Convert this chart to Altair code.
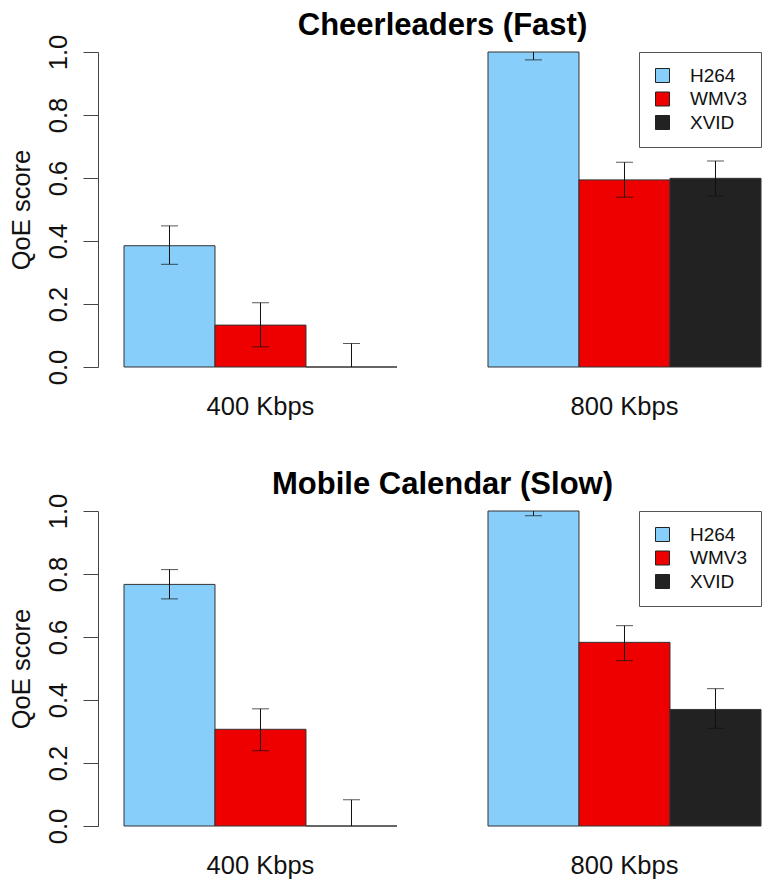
import altair as alt
import pandas as pd

groups = ["400 Kbps", "800 Kbps"]
codecs = ["H264", "WMV3", "XVID"]
colors = ["#87CEFA", "#EE0000", "#222222"]

# order: 400 (H264, WMV3, XVID), 800 (H264, WMV3, XVID)
cheer_values = [0.385, 0.133, 0.000, 1.000, 0.594, 0.599]
cheer_lo = [0.326, 0.064, -0.075, 0.975, 0.539, 0.543]
cheer_hi = [0.448, 0.204, 0.075, 1.025, 0.650, 0.654]

mobile_values = [0.767, 0.307, 0.000, 1.000, 0.583, 0.370]
mobile_lo = [0.721, 0.239, -0.083, 0.985, 0.525, 0.310]
mobile_hi = [0.814, 0.372, 0.083, 1.015, 0.636, 0.436]

titles = ["Cheerleaders (Fast)", "Mobile Calendar (Slow)"]

FONT = "Liberation Sans"
AX_FS = 25.5


def panel(title, vals, lo, hi):
    rows = []
    i = 0
    for g in groups:
        for c in codecs:
            rows.append({"group": g, "codec": c, "value": vals[i], "lo": lo[i], "hi": hi[i]})
            i += 1
    df = pd.DataFrame(rows)

    x = alt.X(
        "group:N",
        sort=groups,
        scale=alt.Scale(paddingInner=0.25, paddingOuter=0.0357, align=1),
        axis=alt.Axis(
            title=None, labelAngle=0, ticks=False, domain=False, grid=False,
            labelFontSize=AX_FS, labelPadding=27, labelColor="#111", labelFont=FONT,
        ),
    )
    xo = alt.XOffset("codec:N", sort=codecs, scale=alt.Scale(paddingInner=0, paddingOuter=0))
    yscale = alt.Scale(domain=[0, 1], nice=False, zero=True)
    yaxis = alt.Axis(
        title="QoE score",
        values=[0, 0.2, 0.4, 0.6, 0.8, 1.0],
        format=".1f",
        labelAngle=270,
        labelAlign="center",
        labelBaseline="bottom",
        labelFontSize=AX_FS,
        labelFont=FONT,
        labelColor="#111",
        labelPadding=12,
        tickSize=15,
        tickColor="#444",
        domainColor="#444",
        grid=False,
        titleFontSize=AX_FS,
        titleFont=FONT,
        titleFontWeight="normal",
        titleColor="#111",
        titlePadding=12,
    )

    base = alt.Chart(df)
    bars = base.mark_bar(stroke="#333333", strokeWidth=1).encode(
        x=x,
        xOffset=xo,
        y=alt.Y("value:Q", scale=yscale, axis=yaxis, title="QoE score"),
        color=alt.Color(
            "codec:N",
            sort=codecs,
            scale=alt.Scale(domain=codecs, range=colors),
            legend=alt.Legend(
                title=None,
                orient="top-right",
                offset=0,
                symbolType="square",
                symbolSize=196,
                symbolStrokeColor="#222",
                symbolStrokeWidth=1,
                labelFontSize=19,
                labelFont=FONT,
                labelColor="#111",
                labelOffset=18,
                rowPadding=3.5,
                padding=14,
                strokeColor="#555",
                fillColor="white",
            ),
        ),
    )
    rules = base.mark_rule(clip=True, color="#111", strokeWidth=1).encode(
        x=x, xOffset=xo,
        y=alt.Y("lo:Q", scale=yscale, axis=yaxis, title="QoE score"),
        y2="hi:Q",
    )
    caps_hi = base.mark_tick(clip=True, color="#111", size=17, thickness=1, orient="horizontal").encode(
        x=x, xOffset=xo, y=alt.Y("hi:Q", scale=yscale, axis=yaxis, title="QoE score")
    )
    caps_lo = base.mark_tick(clip=True, color="#111", size=17, thickness=1, orient="horizontal").encode(
        x=x, xOffset=xo, y=alt.Y("lo:Q", scale=yscale, axis=yaxis, title="QoE score")
    )
    return alt.layer(bars, rules, caps_hi, caps_lo).properties(
        width=663,
        height=315,
        view=alt.ViewBackground(strokeOpacity=0, strokeWidth=0),
        title=alt.TitleParams(
            text=title, fontSize=31, fontWeight="bold", font=FONT, color="#000",
            anchor="middle", dx=13, offset=-8,
        ),
    )


top = panel(titles[0], cheer_values, cheer_lo, cheer_hi)
bottom = panel(titles[1], mobile_values, mobile_lo, mobile_hi)

chart = (
    alt.vconcat(top, bottom, spacing=49)
    .resolve_scale(color="independent", x="independent", y="independent")
    .resolve_legend(color="independent")
    .properties(padding={"left": 9, "top": 10, "right": 0, "bottom": 0})
    .configure_view(stroke="transparent", strokeWidth=0, strokeOpacity=0)
    .configure_axis(grid=False)
    .configure(background="white")
)

chart.save("out.html", embed_options={"renderer": "svg", "actions": False})
